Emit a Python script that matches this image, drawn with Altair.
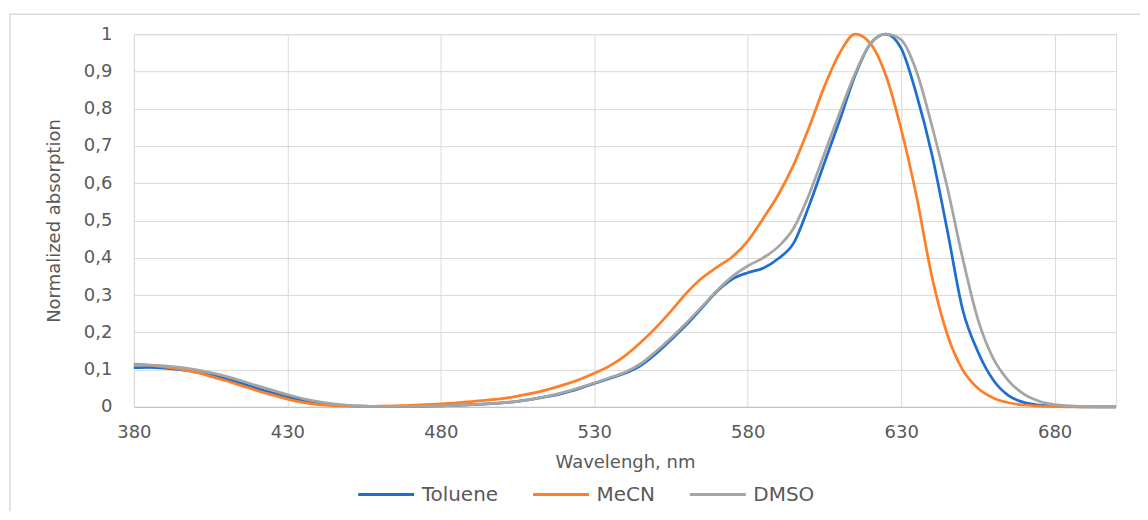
import altair as alt
import pandas as pd

wavelength = [380, 385, 390, 395, 400, 405, 410, 415, 420, 425, 430, 435, 440, 445, 450,
              455, 460, 465, 470, 475, 480, 485, 490, 495, 500, 505, 510, 515, 520, 525,
              530, 535, 540, 545, 550, 555, 560, 565, 570, 575, 580, 585, 590, 595, 600,
              605, 610, 615, 620, 625, 630, 635, 640, 645, 650, 655, 660, 665, 670, 675,
              680, 685, 690, 695, 700]

toluene = [0.105, 0.106, 0.104, 0.100, 0.094, 0.085, 0.075, 0.063, 0.050, 0.038, 0.027, 0.017,
           0.010, 0.005, 0.003, 0.002, 0.001, 0.001, 0.001, 0.002, 0.003, 0.004, 0.006, 0.008,
           0.011, 0.015, 0.021, 0.028, 0.037, 0.049, 0.063, 0.076, 0.090, 0.110, 0.142, 0.180,
           0.220, 0.265, 0.310, 0.343, 0.360, 0.372, 0.398, 0.440, 0.540, 0.655, 0.770, 0.890,
           0.975, 1.000, 0.962, 0.838, 0.678, 0.475, 0.262, 0.148, 0.072, 0.030, 0.012, 0.005,
           0.002, 0.001, 0.000, 0.000, 0.000]

mecn = [0.115, 0.112, 0.107, 0.101, 0.093, 0.082, 0.070, 0.057, 0.044, 0.032, 0.021, 0.012,
        0.006, 0.003, 0.002, 0.001, 0.002, 0.003, 0.004, 0.006, 0.008, 0.011, 0.014, 0.018,
        0.022, 0.029, 0.037, 0.047, 0.059, 0.073, 0.090, 0.110, 0.137, 0.172, 0.212, 0.257,
        0.305, 0.345, 0.375, 0.403, 0.445, 0.505, 0.570, 0.650, 0.750, 0.860, 0.950, 1.000,
        0.975, 0.890, 0.745, 0.565, 0.350, 0.195, 0.100, 0.050, 0.024, 0.011, 0.005, 0.002,
        0.001, 0.000, 0.000, 0.000, 0.000]

dmso = [0.112, 0.112, 0.110, 0.106, 0.100, 0.092, 0.082, 0.070, 0.057, 0.045, 0.033, 0.022,
        0.014, 0.008, 0.004, 0.002, 0.001, 0.001, 0.001, 0.002, 0.003, 0.004, 0.006, 0.008,
        0.011, 0.015, 0.021, 0.029, 0.039, 0.051, 0.064, 0.078, 0.093, 0.115, 0.148, 0.185,
        0.225, 0.268, 0.312, 0.350, 0.378, 0.400, 0.430, 0.480, 0.570, 0.680, 0.790, 0.895,
        0.975, 1.000, 0.985, 0.900, 0.755, 0.590, 0.400, 0.235, 0.130, 0.070, 0.034, 0.015,
        0.006, 0.003, 0.001, 0.000, 0.000]

series_names = ["Toluene", "MeCN", "DMSO"]
series_colors = ["#1F6FCF", "#FF7F27", "#A5A5A5"]
x_ticks = [380, 430, 480, 530, 580, 630, 680]
y_ticks = [0, 0.1, 0.2, 0.3, 0.4, 0.5, 0.6, 0.7, 0.8, 0.9, 1.0]

rows = []
for name, vals in zip(series_names, [toluene, mecn, dmso]):
    for w, v in zip(wavelength, vals):
        rows.append({"wl": w, "abs": v, "solvent": name})
df = pd.DataFrame(rows)

FONT = "DejaVu Sans"
TXT = "#595959"

lines = alt.Chart(df).mark_line(strokeWidth=2.75, interpolate="monotone").encode(
    x=alt.X("wl:Q",
            scale=alt.Scale(domain=[380, 700], nice=False, zero=False),
            axis=alt.Axis(values=x_ticks, title="Wavelengh, nm", grid=True,
                          gridColor="#D9D9D9", gridWidth=1, ticks=False,
                          domainColor="#BFBFBF", domainWidth=1,
                          labelFont=FONT, labelFontSize=18, labelColor=TXT,
                          labelPadding=17, labelFlush=False,
                          titleFont=FONT, titleFontSize=18, titleColor=TXT,
                          titleFontWeight="normal", titleBaseline="alphabetic",
                          titleY=61)),
    y=alt.Y("abs:Q",
            scale=alt.Scale(domain=[0, 1], nice=False),
            axis=alt.Axis(values=y_ticks, title="Normalized absorption", grid=True,
                          gridColor="#D9D9D9", gridWidth=1, ticks=False, domain=False,
                          labelExpr="replace(format(datum.value, '~g'), '.', ',')",
                          labelFont=FONT, labelFontSize=18, labelColor=TXT,
                          labelPadding=22, labelFlush=False,
                          titleFont=FONT, titleFontSize=18, titleColor=TXT,
                          titleFontWeight="normal", titleBaseline="middle",
                          titleX=-79, titleY=186.5)),
    color=alt.Color("solvent:N",
                    scale=alt.Scale(domain=series_names, range=series_colors),
                    legend=alt.Legend(title=None, orient="none", direction="horizontal",
                                      legendX=223, legendY=431, padding=0,
                                      symbolType="stroke", symbolSize=3136,
                                      symbolStrokeWidth=3, labelOffset=6,
                                      columnPadding=28,
                                      labelFont=FONT, labelFontSize=20,
                                      labelColor=TXT)),
    detail="solvent:N",
)

frame = alt.Chart(pd.DataFrame({"f": [0]})).mark_rect(
    fill="transparent", stroke="#D9D9D9", strokeWidth=1.5
).encode(
    x=alt.value(-124), x2=alt.value(1060), y=alt.value(-20), y2=alt.value(540)
)

chart = alt.layer(frame, lines).properties(
    width=983, height=373,
    autosize=alt.AutoSizeParams(type="none"),
    padding={"left": 126, "top": 26, "right": 24, "bottom": 104},
).configure_view(stroke=None).configure(background="white")

chart.save("out.html", embed_options={"renderer": "svg", "actions": False})
